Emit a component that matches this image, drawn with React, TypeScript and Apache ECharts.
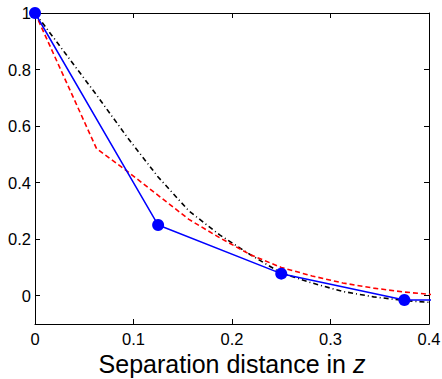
import React, { useEffect, useRef } from "react";
import * as echarts from "echarts";

const blueX = [0, 0.125, 0.25, 0.375, 0.5];
const blueY = [1, 0.25, 0.078, -0.015, -0.015];

const redX = [0, 0.0625, 0.09375, 0.125, 0.15625, 0.1875, 0.21875, 0.25, 0.28125, 0.3125, 0.34375, 0.375, 0.40625];
const redY = [1, 0.52, 0.44, 0.355, 0.27, 0.205, 0.145, 0.1, 0.07, 0.045, 0.027, 0.013, 0.003];

const blackX = [0, 0.03125, 0.0625, 0.09375, 0.125, 0.15625, 0.1875, 0.21875, 0.25, 0.28125, 0.3125, 0.34375, 0.375, 0.40625];
const blackY = [1, 0.855, 0.71, 0.56, 0.42, 0.3, 0.215, 0.145, 0.08, 0.045, 0.015, -0.004, -0.017, -0.025];

const xTicks = [0, 0.1, 0.2, 0.3, 0.4];
const yTicks = [0, 0.2, 0.4, 0.6, 0.8, 1];

const FONT = "Liberation Sans, Arial, Helvetica, sans-serif";

function zip(xs: number[], ys: number[]) {
  return xs.map((x, i) => [x, ys[i]]);
}

export default function App() {
  const ref = useRef<HTMLDivElement>(null);
  useEffect(() => {
    if (!ref.current) return;
    const chart = echarts.init(ref.current, null, { renderer: "svg" });
    const axisLine = { show: true, onZero: false, lineStyle: { color: "#000", width: 1 } };
    const tick = { show: true, inside: true, length: 5, lineStyle: { color: "#000", width: 1 } };
    chart.setOption({
      animation: false,
      backgroundColor: "#fff",
      grid: { left: 35, right: 13, top: 13, bottom: 55, containLabel: false, outerBoundsMode: "none" },
      xAxis: [
        {
          type: "value",
          position: "bottom",
          min: xTicks[0],
          max: xTicks[xTicks.length - 1],
          interval: 0.1,
          axisLine,
          axisTick: tick,
          splitLine: { show: false },
          axisLabel: { color: "#000", fontSize: 16.5, fontFamily: FONT, margin: 6 },
          name: "Separation distance in {i|z}",
          nameLocation: "middle",
          nameGap: 18,
          nameTextStyle: {
            color: "#000",
            fontSize: 25,
            fontFamily: FONT,
            verticalAlign: "top",
            rich: { i: { fontStyle: "italic", fontSize: 25, fontFamily: FONT, color: "#000" } },
          },
        },
        {
          type: "value",
          position: "top",
          min: xTicks[0],
          max: xTicks[xTicks.length - 1],
          interval: 0.1,
          axisLine,
          axisTick: tick,
          splitLine: { show: false },
          axisLabel: { show: false },
        },
      ],
      yAxis: [
        {
          type: "value",
          position: "left",
          min: -0.1,
          max: 1,
          axisLine,
          axisTick: { ...tick, customValues: yTicks },
          splitLine: { show: false },
          axisLabel: { color: "#000", fontSize: 16.5, fontFamily: FONT, margin: 4, customValues: yTicks },
        },
        {
          type: "value",
          position: "right",
          min: -0.1,
          max: 1,
          axisLine,
          axisTick: { ...tick, customValues: yTicks },
          splitLine: { show: false },
          axisLabel: { show: false, customValues: yTicks },
        },
      ],
      series: [
        {
          type: "line",
          data: zip(blackX, blackY),
          showSymbol: false,
          symbol: "none",
          clip: true,
          lineStyle: { color: "#000", width: 1.6, type: [5, 3, 1, 3] },
          z: 2,
        },
        {
          type: "line",
          data: zip(redX, redY),
          showSymbol: false,
          symbol: "none",
          clip: true,
          lineStyle: { color: "#ff0000", width: 1.6, type: [5, 3] },
          z: 3,
        },
        {
          type: "line",
          data: zip(blueX, blueY),
          symbol: "circle",
          symbolSize: 12,
          showSymbol: true,
          showAllSymbol: true,
          clip: true,
          itemStyle: { color: "#0000ff" },
          lineStyle: { color: "#0000ff", width: 1.5 },
          z: 4,
        },
      ],
    });
    return () => chart.dispose();
  }, []);
  return (
    <div
      ref={ref}
      style={{ position: "fixed", left: 0, top: 0, width: 442, height: 379, background: "#fff" }}
    />
  );
}
